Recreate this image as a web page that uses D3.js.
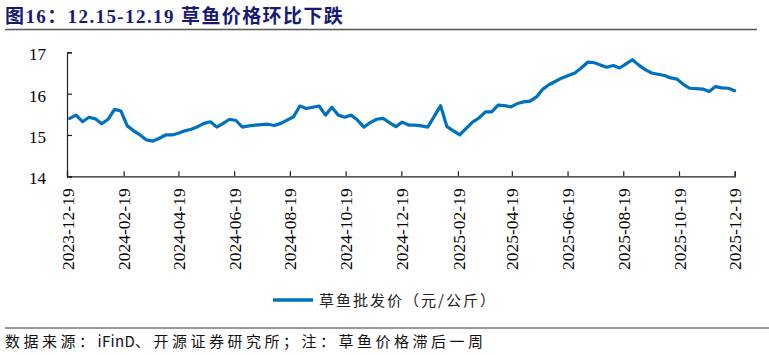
<!DOCTYPE html>
<html><head><meta charset="utf-8">
<script src="https://cdn.jsdelivr.net/npm/d3@7"></script>
<style>
html,body{margin:0;padding:0;background:#fff;}
svg{display:block;}
</style></head>
<body>
<svg id="chart" width="769" height="355"></svg>
<script>
const titleText = "图16：12.15-12.19 草鱼价格环比下跌";
const seriesName = "草鱼批发价（元/公斤）";
const sourceParts = ["数据来源：", "iFinD", "、开源证券研究所；注：草鱼价格滞后一周"];
const startDate = "2023-12-22"; // weekly observations
const prices = [
 15.40,15.48,15.32,15.43,15.39,15.27,15.38,15.62,15.58,15.22,
 15.10,15.00,14.88,14.85,14.92,15.00,15.00,15.04,15.10,15.14,
 15.20,15.28,15.32,15.19,15.28,15.38,15.35,15.19,15.22,15.24,
 15.25,15.26,15.23,15.28,15.36,15.44,15.70,15.64,15.67,15.70,
 15.48,15.67,15.48,15.43,15.48,15.36,15.19,15.30,15.38,15.40,
 15.30,15.20,15.31,15.24,15.24,15.22,15.19,15.45,15.71,15.20,
 15.10,15.00,15.16,15.31,15.41,15.56,15.56,15.72,15.71,15.68,
 15.76,15.80,15.82,15.92,16.11,16.22,16.30,16.38,16.44,16.50,
 16.62,16.76,16.75,16.69,16.64,16.68,16.62,16.72,16.82,16.69,
 16.58,16.50,16.47,16.44,16.38,16.35,16.22,16.13,16.12,16.11,
 16.05,16.17,16.14,16.13,16.07
];
const xTickLabels = ["2023-12-19","2024-02-19","2024-04-19","2024-06-19","2024-08-19","2024-10-19","2024-12-19",
 "2025-02-19","2025-04-19","2025-06-19","2025-08-19","2025-10-19","2025-12-19"];
const yTicks = [14,15,16,17];

const parse = d3.timeParse("%Y-%m-%d");
const fmt = d3.timeFormat("%Y-%m-%d");
const t0 = parse(startDate);
const data = prices.map((v,i)=>({date:d3.timeDay.offset(t0, 7*i), value:v}));
const tickDates = xTickLabels.map(parse);

const svg = d3.select("#chart");
const serif = "'Liberation Serif','Times New Roman',serif";
const cjk = "'Liberation Serif','Noto Sans CJK SC',sans-serif";

// title
svg.append("text").attr("x",5).attr("y",23)
  .attr("font-family",cjk).attr("font-weight","bold").attr("font-size",19)
  .attr("letter-spacing",1.4).attr("fill","#17197a").text(titleText);
svg.append("line").attr("x1",5).attr("x2",757).attr("y1",29.5).attr("y2",29.5)
  .attr("stroke","#555").attr("stroke-width",1.5);

const x = d3.scaleTime().domain([tickDates[0], tickDates[tickDates.length-1]]).range([67,734.7]);
const y = d3.scaleLinear().domain([14,17]).range([176.3,52.3]);

// y axis
const gy = svg.append("g").attr("transform","translate(67,0)")
  .call(d3.axisRight(y).tickValues(yTicks).tickSize(5).tickFormat(d3.format("d")));
gy.select(".domain").attr("stroke","#222").attr("stroke-width",1.2);
gy.selectAll(".tick line").attr("stroke","#222").attr("stroke-width",1.2);
gy.selectAll(".tick text").attr("x",-21).attr("dy","0.45em").attr("text-anchor","end")
  .attr("font-family",serif).attr("font-size",17).attr("fill","#000");

// x axis
const gx = svg.append("g").attr("transform","translate(0,176.3)")
  .call(d3.axisTop(x).tickValues(tickDates).tickSize(5).tickFormat(fmt));
gx.select(".domain").attr("stroke","#222").attr("stroke-width",1.2);
gx.selectAll(".tick line").attr("stroke","#222").attr("stroke-width",1.2);
gx.selectAll(".tick text")
  .attr("transform","translate(0,12) rotate(-90)")
  .attr("x",0).attr("y",0).attr("dy","0.35em").attr("text-anchor","end")
  .attr("font-family",serif).attr("font-size",17.5).attr("fill","#000");

// line
const line = d3.line().x(d=>x(d.date)).y(d=>y(d.value));
svg.append("path").datum(data).attr("d",line)
  .attr("fill","none").attr("stroke","#0070c0").attr("stroke-width",3.2)
  .attr("stroke-linejoin","round").attr("stroke-linecap","round");

// legend
svg.append("line").attr("x1",273).attr("x2",313).attr("y1",300).attr("y2",300)
  .attr("stroke","#0070c0").attr("stroke-width",3.5);
svg.append("text").attr("x",319).attr("y",305.5)
  .attr("font-family","'Noto Sans CJK SC',sans-serif").attr("font-size",15)
  .attr("letter-spacing",2).attr("fill","#222").text(seriesName);

// footer
svg.append("line").attr("x1",5).attr("x2",769).attr("y1",328).attr("y2",328)
  .attr("stroke","#777").attr("stroke-width",1.5);
const ft = svg.append("text").attr("x",5).attr("y",347)
  .attr("font-family","'Noto Sans CJK SC',sans-serif").attr("font-size",15).attr("fill","#111");
ft.selectAll("tspan").data(sourceParts).join("tspan")
  .attr("letter-spacing",(d,i)=> i===1 ? 0.3 : 3.5).text(d=>d);
</script>
</body></html>
